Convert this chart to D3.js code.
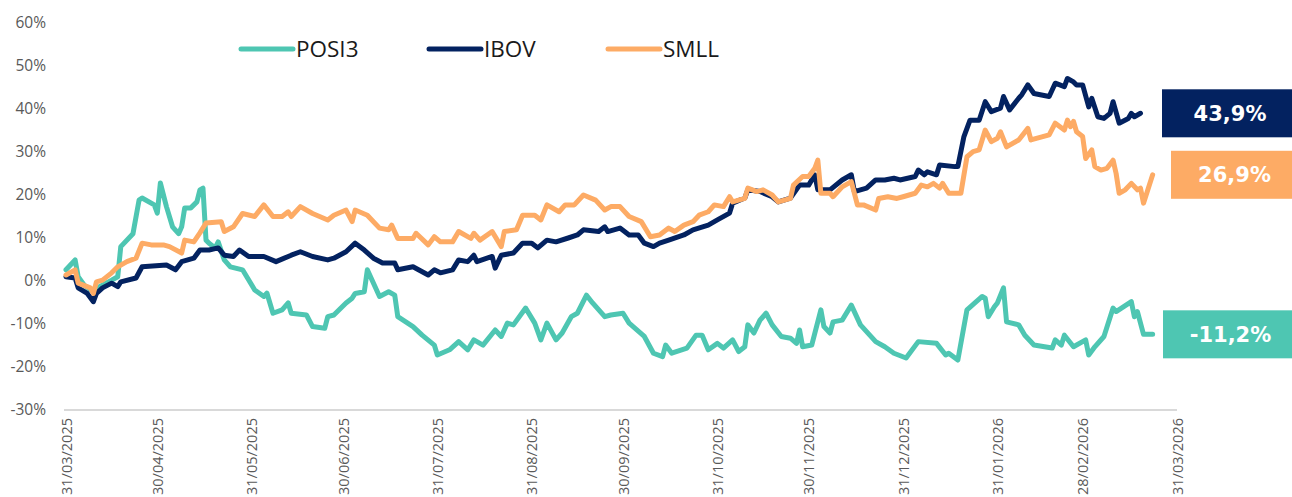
<!DOCTYPE html>
<html>
<head>
<meta charset="utf-8">
<script src="https://cdn.jsdelivr.net/npm/d3@7"></script>
<style>
  body { margin: 0; background: #fff; }
  svg { display: block; }
</style>
</head>
<body>
<svg id="chart" width="1292" height="497"></svg>
<script>
// ---- data (retorno acumulado, %) ----
var seriesNames = ['POSI3', 'IBOV', 'SMLL'];
var seriesColors = ['#4ec6b2', '#032260', '#fdab65'];
var endLabels = ['-11,2%', '43,9%', '26,9%'];

var tickDates = ['2025-03-31','2025-04-30','2025-05-31','2025-06-30','2025-07-31','2025-08-31',
                 '2025-09-30','2025-10-31','2025-11-30','2025-12-31','2026-01-31','2026-02-28','2026-03-31'];
var yTicks = [-30, -20, -10, 0, 10, 20, 30, 40, 50, 60];

var posiData = [
  ['2025-03-31',2.6],['2025-04-03',4.9],['2025-04-04',1.0],['2025-04-06',-1.0],['2025-04-09',-2.5],['2025-04-11',-1.3],
  ['2025-04-15',0.2],['2025-04-17',1.0],['2025-04-18',8.0],['2025-04-22',11.0],['2025-04-24',18.8],['2025-04-25',19.3],
  ['2025-04-29',17.7],['2025-04-30',15.8],['2025-05-01',22.8],['2025-05-03',17.3],['2025-05-05',12.6],['2025-05-07',11.0],
  ['2025-05-08',12.6],['2025-05-09',17.0],['2025-05-11',17.0],['2025-05-13',18.4],['2025-05-14',21.2],['2025-05-15',21.6],
  ['2025-05-16',9.5],['2025-05-17',8.8],['2025-05-19',7.7],['2025-05-20',9.1],['2025-05-22',4.9],['2025-05-24',3.3],
  ['2025-05-28',2.6],['2025-06-01',-2.1],['2025-06-04',-3.6],['2025-06-05',-2.8],['2025-06-07',-7.5],['2025-06-10',-6.7],
  ['2025-06-12',-5.1],['2025-06-13',-7.5],['2025-06-18',-7.9],['2025-06-20',-10.6],['2025-06-24',-11.0],['2025-06-25',-8.3],
  ['2025-06-27',-7.9],['2025-07-01',-5.1],['2025-07-03',-4.0],['2025-07-04',-2.9],['2025-07-07',-2.5],['2025-07-08',2.6],
  ['2025-07-12',-3.6],['2025-07-15',-2.5],['2025-07-17',-3.3],['2025-07-18',-8.3],['2025-07-23',-10.6],['2025-07-26',-12.6],
  ['2025-07-30',-14.9],['2025-07-31',-17.2],['2025-08-04',-16.0],['2025-08-07',-14.1],['2025-08-10',-16.0],['2025-08-12',-13.7],
  ['2025-08-15',-14.9],['2025-08-19',-11.4],['2025-08-21',-12.9],['2025-08-23',-9.8],['2025-08-25',-10.2],['2025-08-29',-6.3],
  ['2025-09-01',-9.8],['2025-09-03',-13.7],['2025-09-05',-9.8],['2025-09-08',-13.7],['2025-09-10',-12.1],['2025-09-13',-8.3],
  ['2025-09-15',-7.5],['2025-09-18',-3.3],['2025-09-20',-5.1],['2025-09-24',-8.3],['2025-09-26',-7.9],['2025-09-30',-7.5],
  ['2025-10-02',-9.8],['2025-10-07',-12.9],['2025-10-10',-16.8],['2025-10-13',-17.6],['2025-10-14',-14.9],['2025-10-16',-16.8],
  ['2025-10-21',-15.6],['2025-10-24',-12.6],['2025-10-26',-12.6],['2025-10-28',-16.0],['2025-10-31',-14.5],['2025-11-02',-15.6],
  ['2025-11-05',-13.7],['2025-11-07',-16.4],['2025-11-09',-15.3],['2025-11-10',-10.2],['2025-11-12',-12.1],['2025-11-14',-9.1],
  ['2025-11-16',-7.5],['2025-11-18',-10.2],['2025-11-21',-12.9],['2025-11-24',-13.3],['2025-11-26',-14.5],['2025-11-27',-11.4],
  ['2025-11-28',-15.3],['2025-12-01',-14.9],['2025-12-04',-6.7],['2025-12-05',-10.6],['2025-12-07',-12.1],['2025-12-08',-9.5],
  ['2025-12-11',-9.1],['2025-12-14',-5.6],['2025-12-17',-10.2],['2025-12-22',-14.1],['2025-12-25',-15.3],['2025-12-28',-16.8],
  ['2026-01-01',-17.9],['2026-01-05',-14.1],['2026-01-11',-14.5],['2026-01-14',-17.2],['2026-01-15',-16.8],['2026-01-18',-18.4],
  ['2026-01-21',-6.7],['2026-01-26',-3.6],['2026-01-27',-4.0],['2026-01-28',-8.3],['2026-01-30',-6.0],['2026-01-31',-5.1],
  ['2026-02-02',-1.6],['2026-02-03',-9.5],['2026-02-07',-10.2],['2026-02-09',-12.6],['2026-02-12',-14.9],['2026-02-18',-15.6],
  ['2026-02-19',-13.7],['2026-02-21',-14.9],['2026-02-22',-12.6],['2026-02-25',-15.3],['2026-03-01',-13.7],['2026-03-02',-17.2],
  ['2026-03-04',-15.3],['2026-03-07',-12.9],['2026-03-10',-6.3],['2026-03-11',-7.1],['2026-03-16',-4.8],['2026-03-17',-8.3],
  ['2026-03-18',-7.1],['2026-03-20',-12.4],['2026-03-23',-12.4]
];

var ibovData = [
  ['2025-03-31',1.0],['2025-04-03',0.7],['2025-04-04',-1.6],['2025-04-07',-2.9],['2025-04-09',-4.8],['2025-04-10',-2.9],
  ['2025-04-12',-1.6],['2025-04-15',-0.5],['2025-04-17',-1.3],['2025-04-18',-0.2],['2025-04-23',0.7],['2025-04-25',3.3],
  ['2025-05-03',3.7],['2025-05-06',2.6],['2025-05-08',4.5],['2025-05-12',5.3],['2025-05-14',7.2],['2025-05-17',7.2],
  ['2025-05-20',7.7],['2025-05-22',6.0],['2025-05-25',5.7],['2025-05-27',7.2],['2025-05-30',5.7],['2025-06-04',5.7],
  ['2025-06-08',4.5],['2025-06-13',6.0],['2025-06-16',6.8],['2025-06-20',5.7],['2025-06-25',4.9],['2025-06-27',5.3],
  ['2025-07-01',6.8],['2025-07-04',8.8],['2025-07-07',7.2],['2025-07-10',5.3],['2025-07-13',4.2],['2025-07-17',4.2],
  ['2025-07-18',2.6],['2025-07-23',3.3],['2025-07-28',1.4],['2025-07-30',2.6],['2025-08-01',1.9],['2025-08-05',2.6],
  ['2025-08-07',4.9],['2025-08-10',4.5],['2025-08-12',6.0],['2025-08-13',4.5],['2025-08-18',5.7],['2025-08-19',3.0],
  ['2025-08-21',6.0],['2025-08-25',6.5],['2025-08-28',8.8],['2025-08-31',8.8],['2025-09-02',7.7],['2025-09-05',9.5],
  ['2025-09-08',9.1],['2025-09-12',10.0],['2025-09-15',10.7],['2025-09-17',11.9],['2025-09-22',11.5],['2025-09-24',12.6],
  ['2025-09-25',11.5],['2025-09-29',12.3],['2025-10-02',10.7],['2025-10-05',10.7],['2025-10-07',8.8],['2025-10-10',8.0],
  ['2025-10-12',8.8],['2025-10-15',9.5],['2025-10-20',10.7],['2025-10-23',11.9],['2025-10-28',13.0],['2025-10-31',14.2],
  ['2025-11-04',15.8],['2025-11-05',18.1],['2025-11-09',19.3],['2025-11-10',21.2],['2025-11-14',20.8],['2025-11-18',19.6],
  ['2025-11-20',18.4],['2025-11-24',19.3],['2025-11-27',22.3],['2025-11-30',22.3],['2025-12-02',24.7],['2025-12-03',21.2],
  ['2025-12-07',21.2],['2025-12-11',23.5],['2025-12-14',24.7],['2025-12-15',20.8],['2025-12-19',21.6],['2025-12-22',23.5],
  ['2025-12-25',23.5],['2025-12-28',23.9],['2025-12-30',23.5],['2026-01-04',24.3],['2026-01-05',25.8],['2026-01-07',24.7],
  ['2026-01-08',25.4],['2026-01-11',24.7],['2026-01-12',27.0],['2026-01-17',26.6],['2026-01-18',26.6],['2026-01-20',33.6],
  ['2026-01-22',37.4],['2026-01-25',37.4],['2026-01-27',41.7],['2026-01-29',39.4],['2026-02-01',40.2],['2026-02-02',42.9],
  ['2026-02-04',39.8],['2026-02-07',42.5],['2026-02-08',43.3],['2026-02-10',45.6],['2026-02-12',43.6],['2026-02-17',42.9],
  ['2026-02-19',46.0],['2026-02-22',45.2],['2026-02-23',47.1],['2026-02-25',46.3],['2026-02-26',45.6],['2026-02-28',45.6],
  ['2026-03-02',40.5],['2026-03-03',42.5],['2026-03-05',38.2],['2026-03-07',37.8],['2026-03-09',39.0],['2026-03-10',41.7],
  ['2026-03-12',36.7],['2026-03-15',37.8],['2026-03-16',39.0],['2026-03-17',38.2],['2026-03-19',39.0]
];

var smllData = [
  ['2025-03-31',1.4],['2025-04-03',2.6],['2025-04-04',-0.5],['2025-04-08',-1.6],['2025-04-09',-2.9],['2025-04-10',-0.2],
  ['2025-04-12',0.2],['2025-04-15',1.9],['2025-04-17',3.3],['2025-04-20',4.5],['2025-04-23',5.3],['2025-04-25',8.8],
  ['2025-04-28',8.4],['2025-05-02',8.4],['2025-05-04',8.0],['2025-05-08',6.5],['2025-05-09',9.5],['2025-05-12',9.1],
  ['2025-05-14',11.2],['2025-05-16',13.5],['2025-05-21',13.8],['2025-05-22',11.5],['2025-05-25',12.6],['2025-05-28',15.7],
  ['2025-06-01',15.0],['2025-06-04',17.7],['2025-06-07',15.0],['2025-06-10',15.0],['2025-06-12',16.1],['2025-06-13',15.0],
  ['2025-06-16',17.3],['2025-06-20',15.7],['2025-06-25',14.2],['2025-06-27',15.3],['2025-07-01',16.5],['2025-07-03',13.8],
  ['2025-07-04',16.5],['2025-07-08',15.3],['2025-07-12',12.3],['2025-07-15',11.9],['2025-07-16',13.0],['2025-07-18',9.9],
  ['2025-07-23',9.9],['2025-07-24',11.1],['2025-07-28',8.4],['2025-07-30',10.3],['2025-08-01',9.1],['2025-08-05',9.1],
  ['2025-08-07',11.5],['2025-08-11',9.9],['2025-08-12',11.1],['2025-08-14',9.5],['2025-08-18',11.5],['2025-08-21',8.0],
  ['2025-08-22',11.5],['2025-08-26',11.9],['2025-08-28',15.3],['2025-09-01',15.3],['2025-09-03',14.2],['2025-09-05',17.7],
  ['2025-09-09',16.1],['2025-09-11',17.7],['2025-09-14',17.7],['2025-09-17',20.0],['2025-09-21',18.8],['2025-09-24',16.5],
  ['2025-09-26',17.3],['2025-09-29',17.3],['2025-10-02',15.0],['2025-10-06',13.8],['2025-10-09',10.3],['2025-10-12',10.7],
  ['2025-10-15',12.3],['2025-10-17',11.5],['2025-10-20',13.0],['2025-10-23',13.8],['2025-10-25',15.3],['2025-10-28',16.1],
  ['2025-10-30',17.7],['2025-11-02',17.3],['2025-11-04',19.6],['2025-11-05',18.4],['2025-11-09',19.2],['2025-11-10',21.6],
  ['2025-11-13',20.8],['2025-11-15',21.2],['2025-11-18',20.0],['2025-11-20',18.4],['2025-11-24',19.2],['2025-11-25',22.3],
  ['2025-11-28',24.3],['2025-11-30',24.3],['2025-12-02',26.2],['2025-12-03',28.1],['2025-12-04',20.4],['2025-12-07',20.4],
  ['2025-12-08',19.6],['2025-12-11',21.9],['2025-12-14',23.1],['2025-12-16',17.7],['2025-12-18',17.7],['2025-12-22',16.5],
  ['2025-12-23',19.2],['2025-12-26',19.6],['2025-12-29',19.2],['2025-12-31',19.6],['2026-01-04',20.4],['2026-01-06',22.3],
  ['2026-01-08',21.9],['2026-01-10',22.7],['2026-01-12',21.6],['2026-01-13',22.7],['2026-01-15',20.4],['2026-01-19',20.4],
  ['2026-01-21',28.9],['2026-01-23',30.1],['2026-01-25',30.5],['2026-01-27',35.1],['2026-01-29',32.4],['2026-01-31',33.2],
  ['2026-02-01',34.7],['2026-02-03',31.2],['2026-02-07',32.8],['2026-02-10',35.5],['2026-02-11',32.8],['2026-02-17',34.0],
  ['2026-02-19',36.7],['2026-02-22',35.1],['2026-02-23',37.4],['2026-02-24',35.9],['2026-02-25',37.1],['2026-02-26',34.7],
  ['2026-02-28',33.6],['2026-03-01',28.5],['2026-03-03',30.5],['2026-03-04',26.6],['2026-03-06',25.8],['2026-03-08',26.2],
  ['2026-03-10',28.1],['2026-03-11',25.0],['2026-03-12',20.4],['2026-03-14',21.2],['2026-03-16',22.7],['2026-03-18',21.2],
  ['2026-03-19',21.6],['2026-03-20',18.1],['2026-03-23',24.7]
];

// ---- layout ----
var svg = d3.select('#chart');
var parseDate = d3.timeParse('%Y-%m-%d');
var fontFamily = '"Open Sans", sans-serif';
var boxLeft = [1163, 1162, 1171];

var xScale = d3.scaleTime()
    .domain([parseDate('2025-03-31'), parseDate('2026-03-31')])
    .range([66, 1177]);
var yScale = d3.scaleLinear()
    .domain([-30, 60])
    .range([410, 23]);

// y axis labels (no line, no gridlines)
var yAxis = d3.axisLeft(yScale)
    .tickValues(yTicks)
    .tickSize(0)
    .tickPadding(0)
    .tickFormat(function(d){ return d + '%'; });

var yAxisG = svg.append('g')
    .attr('transform', 'translate(46,0)')
    .call(yAxis);
yAxisG.select('.domain').remove();
yAxisG.selectAll('text')
    .style('font-family', fontFamily)
    .style('font-size', '15.5px')
    .attr('fill', '#595959');

// x axis: bottom line + rotated dates
var xAxis = d3.axisBottom(xScale)
    .tickValues(tickDates.map(parseDate))
    .tickSize(0)
    .tickFormat(d3.timeFormat('%d/%m/%Y'));

var xAxisG = svg.append('g')
    .attr('transform', 'translate(0,' + yScale(-30) + ')')
    .call(xAxis);
xAxisG.select('.domain')
    .attr('stroke', '#d9d9d9')
    .attr('stroke-width', 2)
    .attr('d', 'M64,0H1177');
xAxisG.selectAll('text')
    .style('font-family', fontFamily)
    .style('font-size', '14.5px')
    .attr('fill', '#595959')
    .attr('text-anchor', 'end')
    .attr('transform', 'rotate(-90)')
    .attr('x', -8)
    .attr('y', 0)
    .attr('dy', '0.35em');

// lines
var allData = [posiData, ibovData, smllData];
var line = d3.line()
    .x(function(d){ return xScale(parseDate(d[0])); })
    .y(function(d){ return yScale(d[1]); });

svg.append('g').selectAll('path')
    .data(allData)
    .enter()
    .append('path')
    .attr('d', line)
    .attr('fill', 'none')
    .attr('stroke', function(d, i){ return seriesColors[i]; })
    .attr('stroke-width', 5)
    .attr('stroke-linejoin', 'round')
    .attr('stroke-linecap', 'round');

// legend
var legendX = [239, 427, 606];
var legend = svg.append('g').selectAll('g')
    .data(seriesNames)
    .enter()
    .append('g')
    .attr('transform', function(d, i){ return 'translate(' + legendX[i] + ',49)'; });
legend.append('line')
    .attr('x1', 2).attr('x2', 54)
    .attr('stroke', function(d, i){ return seriesColors[i]; })
    .attr('stroke-width', 5)
    .attr('stroke-linecap', 'round');
legend.append('text')
    .attr('x', 57)
    .attr('dy', '0.36em')
    .style('font-family', fontFamily)
    .style('font-size', '22.5px')
    .attr('fill', '#1a1a1a')
    .text(function(d){ return d; });

// end value boxes, centred on the last point of each series
var boxes = svg.append('g').selectAll('g')
    .data(allData)
    .enter()
    .append('g')
    .attr('transform', function(d, i){
        return 'translate(' + boxLeft[i] + ',' + yScale(d[d.length - 1][1]) + ')';
    });
boxes.append('rect')
    .attr('x', 0)
    .attr('y', -24)
    .attr('width', function(d, i){ return 1292 - boxLeft[i]; })
    .attr('height', 48)
    .attr('fill', function(d, i){ return seriesColors[i]; });
boxes.append('text')
    .attr('x', function(d, i){ return (1292 - boxLeft[i]) / 2 + 3; })
    .attr('dy', '0.36em')
    .attr('text-anchor', 'middle')
    .style('font-family', '"DejaVu Sans", sans-serif')
    .style('font-weight', 'bold')
    .style('font-size', '21px')
    .attr('fill', '#fff')
    .text(function(d, i){ return endLabels[i]; });
</script>
